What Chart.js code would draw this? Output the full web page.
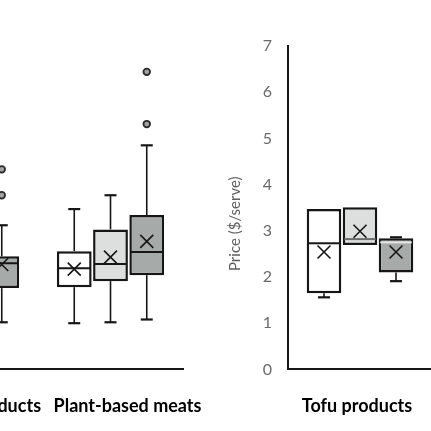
<!DOCTYPE html>
<html><head><meta charset="utf-8">
<script src="https://cdn.jsdelivr.net/npm/chart.js@4.4.1/dist/chart.umd.min.js"></script>
<style>
html,body{margin:0;padding:0;width:431px;height:431px;overflow:hidden;background:#fff;position:relative}
canvas{position:absolute;top:0}
#left{left:-107px}
#right{left:215px}
</style></head><body>
<canvas id="left" width="340" height="443"></canvas>
<canvas id="right" width="217" height="443"></canvas>
<script>
// ---- data (each box: [min, Q1, median, Q3, max]) ----
const LEFT_CATEGORIES = ['Meat products', 'Plant-based meats'];
const LEFT_WHITE = [null, [1.00, 1.78, 2.19, 2.56, 3.47]];
const LEFT_LIGHT = [null, [1.02, 1.91, 2.28, 3.03, 3.77]];
const LEFT_DARK  = [[1.02, 1.76, 2.30, 2.45, 3.12], [1.08, 2.04, 2.54, 3.34, 4.85]];
const LEFT_WHITE_MEAN = [null, 2.17];
const LEFT_LIGHT_MEAN = [null, 2.43];
const LEFT_DARK_MEAN  = [2.27, 2.77];
const LEFT_DARK_OUTLIERS = [[3.77, 4.33], [5.31, 6.44]];

const RIGHT_CATEGORIES = ['Tofu products'];
const TOFU_WHITE = [[1.56, 1.65, 2.73, 3.47, 3.47]];
const TOFU_LIGHT = [[2.69, 2.69, 2.82, 3.51, 3.51]];
const TOFU_DARK  = [[1.91, 2.10, 2.75, 2.84, 2.86]];
const TOFU_WHITE_MEAN = [2.54];
const TOFU_LIGHT_MEAN = [2.99];
const TOFU_DARK_MEAN  = [2.54];

const Y_MIN = 0, Y_MAX = 7, Y_STEP = 1;
const Y_TITLE = 'Price ($/serve)';

// ---- styles ----
const FILL_WHITE = '#ffffff', FILL_LIGHT = '#dcdfde', FILL_DARK = '#a6abaa';
const INK = '#161616';

function boxDataset(stats, means, outliers, fill, medianColors) {
  return {
    data: stats.map(s => s ? [s[1], s[3]] : null),
    stats: stats, means: means, outliers: outliers || stats.map(() => []),
    medianColors: medianColors || stats.map(() => INK),
    backgroundColor: fill, borderColor: INK, borderWidth: 2.5, borderSkipped: false,
    categoryPercentage: 0.75, barPercentage: 0.96
  };
}

const boxPlugin = {
  id: 'boxExtras',
  beforeDatasetsDraw(chart) {
    const ctx = chart.ctx, ys = chart.scales.y;
    chart.data.datasets.forEach((ds, i) => {
      chart.getDatasetMeta(i).data.forEach((bar, j) => {
        const s = ds.stats[j]; if (!s) return;
        const [lo, q1, , q3, hi] = s;
        ctx.save(); ctx.strokeStyle = INK;
        const cap = 6;
        const seg = (a, b) => {
          ctx.lineWidth = 1.6;
          ctx.beginPath(); ctx.moveTo(bar.x, ys.getPixelForValue(a)); ctx.lineTo(bar.x, ys.getPixelForValue(b)); ctx.stroke();
          ctx.lineWidth = 2.2; ctx.beginPath();
          ctx.moveTo(bar.x - cap, ys.getPixelForValue(b)); ctx.lineTo(bar.x + cap, ys.getPixelForValue(b)); ctx.stroke();
        };
        if (lo < q1) seg(q1, lo);
        if (hi > q3) seg(q3, hi);
        ctx.restore();
      });
    });
  },
  afterDatasetsDraw(chart) {
    const ctx = chart.ctx, ys = chart.scales.y;
    chart.data.datasets.forEach((ds, i) => {
      chart.getDatasetMeta(i).data.forEach((bar, j) => {
        const s = ds.stats[j]; if (!s) return;
        const half = bar.width / 2 - 1.5;
        ctx.save();
        const my = ys.getPixelForValue(s[2]);
        ctx.strokeStyle = ds.medianColors[j]; ctx.lineWidth = 2;
        ctx.beginPath(); ctx.moveTo(bar.x - half, my); ctx.lineTo(bar.x + half, my); ctx.stroke();
        const m = ds.means[j];
        if (m != null) {
          const py = ys.getPixelForValue(m), r = 6.5;
          ctx.strokeStyle = INK; ctx.lineWidth = 1.6;
          ctx.beginPath();
          ctx.moveTo(bar.x - r, py - r); ctx.lineTo(bar.x + r, py + r);
          ctx.moveTo(bar.x - r, py + r); ctx.lineTo(bar.x + r, py - r);
          ctx.stroke();
        }
        (ds.outliers[j] || []).forEach(v => {
          ctx.beginPath(); ctx.arc(bar.x, ys.getPixelForValue(v), 3.3, 0, Math.PI * 2);
          ctx.fillStyle = '#a2a2a2'; ctx.fill();
          ctx.strokeStyle = '#2a2a2a'; ctx.lineWidth = 1.8; ctx.stroke();
        });
        ctx.restore();
      });
    });
  }
};

const titlePlugin = {
  id: 'yTitle',
  afterDraw(chart, args, opts) {
    if (!opts.text) return;
    const ctx = chart.ctx, a = chart.chartArea;
    ctx.save();
    ctx.translate(chart.scales.y.left + 20, (a.top + a.bottom) / 2 + 16);
    ctx.rotate(-Math.PI / 2);
    ctx.font = '15px Lato';
    ctx.fillStyle = '#5f5f5f'; ctx.textAlign = 'center'; ctx.textBaseline = 'middle';
    ctx.fillText(opts.text, 0, 0);
    ctx.restore();
  }
};

function makeOptions(showY, title, padRight) {
  const y = {
    display: showY, min: Y_MIN, max: Y_MAX,
    grid: { display: false, drawTicks: false },
    border: { display: true, color: INK, width: 2 },
    ticks: { stepSize: Y_STEP, padding: 16, color: '#6a6a6a', font: { family: 'Lato', size: 16 } }
  };
  if (showY) y.afterFit = scale => { scale.width = 73; };
  return {
    responsive: false, animation: false,
    layout: { autoPadding: false, padding: { top: 46, bottom: 0, left: 0, right: padRight } },
    plugins: { legend: { display: false }, tooltip: { enabled: false }, yTitle: { text: title } },
    scales: {
      x: {
        grid: { display: false, drawTicks: false },
        border: { display: true, color: INK, width: 2 },
        ticks: { padding: 26, color: '#000', font: { family: 'Lato', weight: 'bold', size: 18, lineHeight: 1.2 },
                 labelOffset: showY ? -3 : 17, maxRotation: 0, autoSkip: false },
        afterFit(scale) { scale.paddingLeft = 0; scale.paddingRight = 0; }
      },
      y: y
    }
  };
}

new Chart(document.getElementById('left'), {
  type: 'bar',
  data: {
    labels: LEFT_CATEGORIES,
    datasets: [
      boxDataset(LEFT_WHITE, LEFT_WHITE_MEAN, null, FILL_WHITE),
      boxDataset(LEFT_LIGHT, LEFT_LIGHT_MEAN, null, FILL_LIGHT),
      boxDataset(LEFT_DARK, LEFT_DARK_MEAN, LEFT_DARK_OUTLIERS, FILL_DARK)
    ]
  },
  options: makeOptions(false, '', 50),
  plugins: [boxPlugin]
});

new Chart(document.getElementById('right'), {
  type: 'bar',
  data: {
    labels: RIGHT_CATEGORIES,
    datasets: [
      boxDataset(TOFU_WHITE, TOFU_WHITE_MEAN, null, FILL_WHITE, [INK]),
      boxDataset(TOFU_LIGHT, TOFU_LIGHT_MEAN, null, FILL_LIGHT, ['#6a6a6a']),
      boxDataset(TOFU_DARK, TOFU_DARK_MEAN, null, FILL_DARK, ['#e6e6e6'])
    ]
  },
  options: makeOptions(true, Y_TITLE, 0),
  plugins: [boxPlugin, titlePlugin]
});
</script>
</body></html>
